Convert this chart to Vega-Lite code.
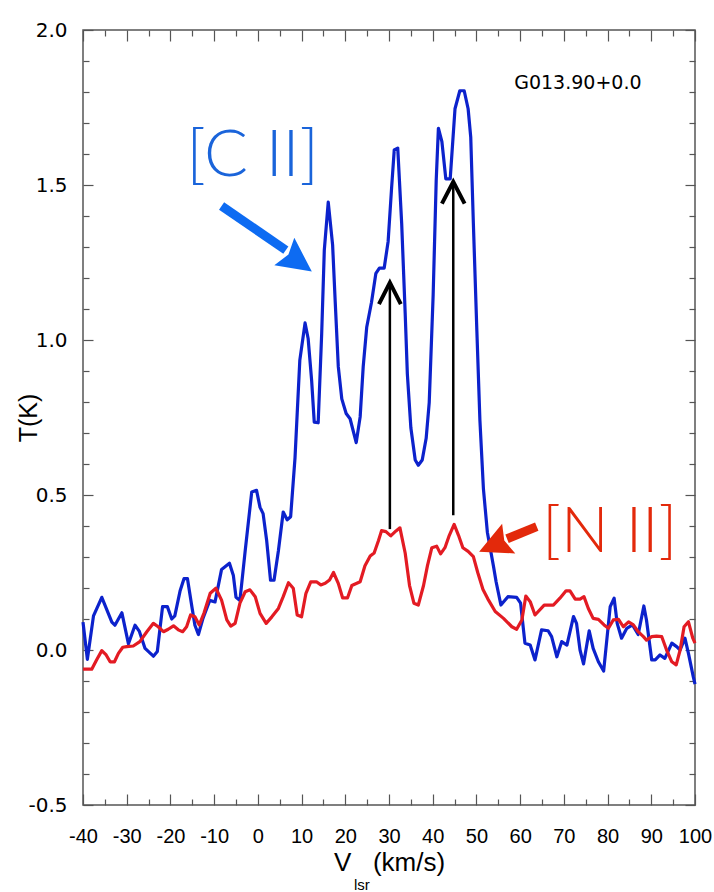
{
  "$schema": "https://vega.github.io/schema/vega-lite/v6.json",
  "width": 612,
  "height": 775,
  "autosize": {"type": "none"},
  "padding": {"left": 83, "top": 30, "right": 19, "bottom": 87},
  "background": "white",
  "config": {
    "view": {"stroke": "#555555", "strokeWidth": 1.5},
    "axis": {
      "grid": false,
      "domain": false,
      "tickColor": "#555555",
      "tickWidth": 1.2,
      "labelColor": "black",
      "titleColor": "black",
      "titleFontWeight": "normal",
      "labelOverlap": false,
      "labelFlush": false
    }
  },
  "resolve": {"axis": {"x": "independent", "y": "independent"}},
  "datasets": {
    "cii": [
      {"v": -40, "t": 0.09}, {"v": -39, "t": -0.03}, {"v": -37.6, "t": 0.11}, {"v": -35.7, "t": 0.17},
      {"v": -33.4, "t": 0.09}, {"v": -32.7, "t": 0.08}, {"v": -31.1, "t": 0.12}, {"v": -29.6, "t": 0.02},
      {"v": -28.1, "t": 0.08}, {"v": -27.1, "t": 0.06}, {"v": -25.8, "t": 0.005}, {"v": -23.9, "t": -0.02},
      {"v": -23.0, "t": -0.005}, {"v": -21.8, "t": 0.14}, {"v": -20.7, "t": 0.14}, {"v": -19.7, "t": 0.1},
      {"v": -19.0, "t": 0.11}, {"v": -17.8, "t": 0.19}, {"v": -16.9, "t": 0.23}, {"v": -16.1, "t": 0.23},
      {"v": -15.1, "t": 0.14}, {"v": -14.4, "t": 0.08}, {"v": -13.6, "t": 0.05}, {"v": -12.6, "t": 0.1},
      {"v": -11.0, "t": 0.16}, {"v": -9.8, "t": 0.155}, {"v": -8.3, "t": 0.26}, {"v": -6.5, "t": 0.28},
      {"v": -5.6, "t": 0.24}, {"v": -5.0, "t": 0.17}, {"v": -4.1, "t": 0.16}, {"v": -2.9, "t": 0.32},
      {"v": -1.4, "t": 0.51}, {"v": -0.3, "t": 0.515}, {"v": 0.5, "t": 0.46}, {"v": 1.2, "t": 0.44},
      {"v": 2.0, "t": 0.355}, {"v": 2.9, "t": 0.225}, {"v": 3.7, "t": 0.225}, {"v": 4.7, "t": 0.32},
      {"v": 5.8, "t": 0.445}, {"v": 6.7, "t": 0.42}, {"v": 7.5, "t": 0.43}, {"v": 8.5, "t": 0.62},
      {"v": 9.6, "t": 0.935}, {"v": 10.8, "t": 1.055}, {"v": 11.5, "t": 1.005}, {"v": 12.3, "t": 0.87},
      {"v": 12.9, "t": 0.735}, {"v": 13.8, "t": 0.733}, {"v": 14.6, "t": 1.02}, {"v": 15.2, "t": 1.29},
      {"v": 16.1, "t": 1.445}, {"v": 17.1, "t": 1.307}, {"v": 17.7, "t": 1.122}, {"v": 18.4, "t": 0.914},
      {"v": 19.2, "t": 0.81}, {"v": 20.2, "t": 0.763}, {"v": 21.1, "t": 0.746}, {"v": 22.5, "t": 0.669},
      {"v": 23.4, "t": 0.752}, {"v": 24.1, "t": 0.914}, {"v": 24.9, "t": 1.041}, {"v": 26.0, "t": 1.122},
      {"v": 27.0, "t": 1.215}, {"v": 27.8, "t": 1.232}, {"v": 28.9, "t": 1.232}, {"v": 29.8, "t": 1.318},
      {"v": 30.6, "t": 1.492}, {"v": 31.2, "t": 1.613}, {"v": 32.0, "t": 1.619}, {"v": 32.9, "t": 1.376},
      {"v": 33.7, "t": 1.087}, {"v": 34.2, "t": 0.89}, {"v": 35.0, "t": 0.717}, {"v": 36.0, "t": 0.613},
      {"v": 36.7, "t": 0.596}, {"v": 37.6, "t": 0.613}, {"v": 38.5, "t": 0.683}, {"v": 39.2, "t": 0.798},
      {"v": 40.1, "t": 1.145}, {"v": 40.8, "t": 1.515}, {"v": 41.3, "t": 1.683}, {"v": 42.1, "t": 1.64},
      {"v": 43.0, "t": 1.52}, {"v": 44.0, "t": 1.52}, {"v": 45.1, "t": 1.746}, {"v": 46.2, "t": 1.804},
      {"v": 47.2, "t": 1.804}, {"v": 48.1, "t": 1.746}, {"v": 48.7, "t": 1.654}, {"v": 49.3, "t": 1.376},
      {"v": 50.1, "t": 1.029}, {"v": 50.8, "t": 0.74}, {"v": 51.6, "t": 0.52}, {"v": 52.5, "t": 0.38},
      {"v": 53.9, "t": 0.27}, {"v": 54.5, "t": 0.22}, {"v": 55.6, "t": 0.145}, {"v": 57.2, "t": 0.172},
      {"v": 59.2, "t": 0.17}, {"v": 60.1, "t": 0.151}, {"v": 61.1, "t": 0.022}, {"v": 62.3, "t": 0.016},
      {"v": 63.4, "t": -0.032}, {"v": 64.9, "t": 0.065}, {"v": 66.4, "t": 0.062}, {"v": 67.2, "t": 0.043},
      {"v": 68.4, "t": -0.022}, {"v": 69.5, "t": 0.027}, {"v": 70.7, "t": 0.016}, {"v": 72.2, "t": 0.108},
      {"v": 72.9, "t": 0.086}, {"v": 73.7, "t": 0.0}, {"v": 74.5, "t": -0.045}, {"v": 75.8, "t": 0.062},
      {"v": 76.7, "t": 0.005}, {"v": 77.9, "t": -0.038}, {"v": 79.1, "t": -0.068}, {"v": 80.6, "t": 0.14},
      {"v": 81.5, "t": 0.167}, {"v": 82.2, "t": 0.086}, {"v": 83.2, "t": 0.038}, {"v": 84.4, "t": 0.07},
      {"v": 85.7, "t": 0.081}, {"v": 87.0, "t": 0.05}, {"v": 88.3, "t": 0.142}, {"v": 88.9, "t": 0.097},
      {"v": 90.1, "t": -0.032}, {"v": 90.9, "t": -0.032}, {"v": 92.0, "t": -0.016}, {"v": 93.1, "t": -0.027},
      {"v": 94.7, "t": 0.022}, {"v": 95.8, "t": 0.011}, {"v": 96.6, "t": 0.0}, {"v": 97.7, "t": 0.038},
      {"v": 98.5, "t": -0.011}, {"v": 99.6, "t": -0.086}, {"v": 100, "t": -0.11}
    ],
    "nii": [
      {"v": -40, "t": -0.062}, {"v": -38.0, "t": -0.062}, {"v": -36.9, "t": -0.032}, {"v": -35.7, "t": -0.002},
      {"v": -34.7, "t": -0.016}, {"v": -33.8, "t": -0.038}, {"v": -32.8, "t": -0.038}, {"v": -31.9, "t": -0.011},
      {"v": -30.9, "t": 0.009}, {"v": -30.0, "t": 0.011}, {"v": -28.5, "t": 0.013}, {"v": -27.0, "t": 0.027},
      {"v": -25.4, "t": 0.059}, {"v": -23.9, "t": 0.086}, {"v": -22.8, "t": 0.075}, {"v": -21.6, "t": 0.059},
      {"v": -20.5, "t": 0.067}, {"v": -19.3, "t": 0.078}, {"v": -18.2, "t": 0.065}, {"v": -17.2, "t": 0.059},
      {"v": -16.3, "t": 0.075}, {"v": -15.4, "t": 0.113}, {"v": -14.4, "t": 0.107}, {"v": -13.4, "t": 0.081},
      {"v": -12.3, "t": 0.12}, {"v": -10.9, "t": 0.183}, {"v": -9.6, "t": 0.199}, {"v": -8.3, "t": 0.161},
      {"v": -7.1, "t": 0.097}, {"v": -6.2, "t": 0.077}, {"v": -5.2, "t": 0.086}, {"v": -4.1, "t": 0.151},
      {"v": -2.9, "t": 0.188}, {"v": -1.8, "t": 0.194}, {"v": -0.6, "t": 0.172}, {"v": 0.5, "t": 0.118},
      {"v": 1.9, "t": 0.086}, {"v": 3.2, "t": 0.107}, {"v": 4.7, "t": 0.134}, {"v": 5.8, "t": 0.172},
      {"v": 7.0, "t": 0.217}, {"v": 8.1, "t": 0.199}, {"v": 9.0, "t": 0.113}, {"v": 10.0, "t": 0.107},
      {"v": 11.0, "t": 0.183}, {"v": 12.1, "t": 0.22}, {"v": 13.4, "t": 0.22}, {"v": 14.4, "t": 0.21},
      {"v": 15.4, "t": 0.215}, {"v": 16.4, "t": 0.226}, {"v": 17.3, "t": 0.25}, {"v": 18.4, "t": 0.215},
      {"v": 19.4, "t": 0.168}, {"v": 20.5, "t": 0.168}, {"v": 21.5, "t": 0.208}, {"v": 23.4, "t": 0.22},
      {"v": 24.5, "t": 0.272}, {"v": 25.7, "t": 0.303}, {"v": 26.6, "t": 0.313}, {"v": 27.6, "t": 0.353},
      {"v": 28.3, "t": 0.385}, {"v": 29.3, "t": 0.382}, {"v": 30.4, "t": 0.368}, {"v": 31.6, "t": 0.384},
      {"v": 32.5, "t": 0.394}, {"v": 33.7, "t": 0.313}, {"v": 34.7, "t": 0.208}, {"v": 35.7, "t": 0.151},
      {"v": 36.7, "t": 0.145}, {"v": 37.9, "t": 0.208}, {"v": 38.8, "t": 0.272}, {"v": 39.8, "t": 0.33},
      {"v": 40.9, "t": 0.335}, {"v": 41.8, "t": 0.31}, {"v": 42.8, "t": 0.33}, {"v": 43.8, "t": 0.37},
      {"v": 44.9, "t": 0.405}, {"v": 45.9, "t": 0.37}, {"v": 46.9, "t": 0.33}, {"v": 48.1, "t": 0.318},
      {"v": 49.3, "t": 0.301}, {"v": 50.3, "t": 0.25}, {"v": 51.5, "t": 0.195}, {"v": 52.6, "t": 0.165},
      {"v": 54.3, "t": 0.124}, {"v": 56.2, "t": 0.102}, {"v": 58.1, "t": 0.075}, {"v": 59.2, "t": 0.067},
      {"v": 60.4, "t": 0.097}, {"v": 61.3, "t": 0.174}, {"v": 62.3, "t": 0.156}, {"v": 63.4, "t": 0.113},
      {"v": 65.5, "t": 0.145}, {"v": 67.6, "t": 0.145}, {"v": 69.1, "t": 0.167}, {"v": 70.5, "t": 0.191},
      {"v": 71.4, "t": 0.191}, {"v": 72.6, "t": 0.164}, {"v": 73.7, "t": 0.164}, {"v": 74.6, "t": 0.172},
      {"v": 75.6, "t": 0.134}, {"v": 76.7, "t": 0.102}, {"v": 77.9, "t": 0.099}, {"v": 79.2, "t": 0.081},
      {"v": 80.2, "t": 0.07}, {"v": 81.3, "t": 0.097}, {"v": 82.5, "t": 0.099}, {"v": 83.6, "t": 0.075},
      {"v": 84.8, "t": 0.091}, {"v": 85.9, "t": 0.081}, {"v": 87.0, "t": 0.059}, {"v": 88.2, "t": 0.043},
      {"v": 88.9, "t": 0.032}, {"v": 90.1, "t": 0.043}, {"v": 91.2, "t": 0.045}, {"v": 92.4, "t": 0.043},
      {"v": 93.5, "t": 0.0}, {"v": 94.7, "t": -0.038}, {"v": 95.7, "t": -0.048}, {"v": 96.6, "t": 0.0},
      {"v": 97.5, "t": 0.075}, {"v": 98.5, "t": 0.091}, {"v": 99.5, "t": 0.038}, {"v": 100, "t": 0.022}
    ],
    "markers": [
      {"v": 30.2, "lo": 0.39, "hi": 1.185},
      {"v": 44.7, "lo": 0.435, "hi": 1.51}
    ],
    "chevrons": [
      {"arrow": "a", "k": 0, "v": 27.7, "t": 1.116},
      {"arrow": "a", "k": 1, "v": 30.2, "t": 1.185},
      {"arrow": "a", "k": 2, "v": 32.7, "t": 1.116},
      {"arrow": "b", "k": 0, "v": 42.1, "t": 1.44},
      {"arrow": "b", "k": 1, "v": 44.7, "t": 1.51},
      {"arrow": "b", "k": 2, "v": 47.3, "t": 1.44}
    ],
    "callouts": [
      {"line": "cii", "v": -8.3, "t": 1.432, "v2": 6.4, "t2": 1.29, "hv": 9.2, "ht": 1.253},
      {"line": "nii", "v": 63.8, "t": 0.398, "v2": 57.0, "t2": 0.359, "hv": 54.0, "ht": 0.338}
    ],
    "names": [
      {"line": "cii", "name": "[C II]", "v": -1.2, "t": 1.529},
      {"line": "nii", "name": "[N II]", "v": 80.5, "t": 0.316}
    ]
  },
  "layer": [
    {
      "mark": {"type": "rule", "color": "black", "strokeWidth": 3},
      "encoding": {
        "y": {"datum": 0, "type": "quantitative", "scale": {"domain": [-0.5, 2.0], "nice": false, "zero": false}, "axis": null}
      }
    },
    {
      "data": {"name": "cii"},
      "mark": {"type": "line", "color": "#0c22cc", "strokeWidth": 3.2, "strokeJoin": "round"},
      "encoding": {
        "x": {
          "field": "v", "type": "quantitative",
          "scale": {"domain": [-40, 100], "nice": false, "zero": false},
          "axis": {
            "orient": "bottom",
            "values": [-40, -30, -20, -10, 0, 10, 20, 30, 40, 50, 60, 70, 80, 90, 100],
            "format": "d",
            "labelExpr": "replace(datum.label, '\u2212', '-')",
            "tickSize": -11,
            "labelPadding": 32,
            "labelFont": "Liberation Sans",
            "labelFontSize": 20,
            "title": "V\u00a0\u00a0\u00a0(km/s)",
            "titleFont": "Liberation Sans",
            "titleFontSize": 26,
            "titlePadding": 3
          }
        },
        "y": {
          "field": "t", "type": "quantitative",
          "scale": {"domain": [-0.5, 2.0], "nice": false, "zero": false},
          "axis": {
            "orient": "left",
            "values": [-0.5, 0, 0.5, 1, 1.5, 2],
            "format": ".1f",
            "labelExpr": "replace(datum.label, '\u2212', '-')",
            "tickSize": -10,
            "labelPadding": 26,
            "labelFont": "DejaVu Sans",
            "labelFontSize": 20,
            "title": "T(K)",
            "titleFont": "Liberation Sans",
            "titleFontSize": 25,
            "titlePadding": -14
          }
        }
      }
    },
    {
      "data": {"name": "nii"},
      "mark": {"type": "line", "color": "#e31b23", "strokeWidth": 3.2, "strokeJoin": "round"},
      "encoding": {
        "x": {
          "field": "v", "type": "quantitative",
          "scale": {"domain": [-40, 100], "nice": false, "zero": false},
          "axis": {"orient": "bottom", "values": [-35, -25, -15, -5, 5, 15, 25, 35, 45, 55, 65, 75, 85, 95], "tickSize": -6, "labels": false, "title": null}
        },
        "y": {
          "field": "t", "type": "quantitative",
          "scale": {"domain": [-0.5, 2.0], "nice": false, "zero": false},
          "axis": {"orient": "left", "values": [-0.4, -0.3, -0.2, -0.1, 0.1, 0.2, 0.3, 0.4, 0.6, 0.7, 0.8, 0.9, 1.1, 1.2, 1.3, 1.4, 1.6, 1.7, 1.8, 1.9], "tickSize": -6, "labels": false, "title": null}
        }
      }
    },
    {
      "data": {"name": "markers"},
      "mark": {"type": "rule", "color": "black", "strokeWidth": 2.5},
      "encoding": {
        "x": {
          "field": "v", "type": "quantitative",
          "scale": {"domain": [-40, 100], "nice": false, "zero": false},
          "axis": {"orient": "top", "values": [-40, -30, -20, -10, 0, 10, 20, 30, 40, 50, 60, 70, 80, 90, 100], "tickSize": -11, "labels": false, "title": null}
        },
        "y": {
          "field": "lo", "type": "quantitative",
          "scale": {"domain": [-0.5, 2.0], "nice": false, "zero": false},
          "axis": {"orient": "right", "values": [-0.5, 0, 0.5, 1, 1.5, 2], "tickSize": -10, "labels": false, "title": null}
        },
        "y2": {"field": "hi"}
      }
    },
    {
      "data": {"name": "chevrons"},
      "mark": {"type": "line", "color": "black", "strokeWidth": 4, "strokeJoin": "miter", "strokeCap": "butt"},
      "encoding": {
        "x": {
          "field": "v", "type": "quantitative",
          "scale": {"domain": [-40, 100], "nice": false, "zero": false},
          "axis": {"orient": "top", "values": [-35, -25, -15, -5, 5, 15, 25, 35, 45, 55, 65, 75, 85, 95], "tickSize": -6, "labels": false, "title": null}
        },
        "y": {
          "field": "t", "type": "quantitative",
          "scale": {"domain": [-0.5, 2.0], "nice": false, "zero": false},
          "axis": {"orient": "right", "values": [-0.4, -0.3, -0.2, -0.1, 0.1, 0.2, 0.3, 0.4, 0.6, 0.7, 0.8, 0.9, 1.1, 1.2, 1.3, 1.4, 1.6, 1.7, 1.8, 1.9], "tickSize": -6, "labels": false, "title": null}
        },
        "detail": {"field": "arrow"},
        "order": {"field": "k"}
      }
    },
    {
      "data": {"name": "callouts"},
      "transform": [{"filter": "datum.line === 'cii'"}],
      "mark": {"type": "rule", "color": "#0d6bf2", "strokeWidth": 9},
      "encoding": {
        "x": {"field": "v", "type": "quantitative", "axis": null},
        "y": {"field": "t", "type": "quantitative", "axis": null},
        "x2": {"field": "v2"},
        "y2": {"field": "t2"}
      }
    },
    {
      "data": {"name": "callouts"},
      "transform": [{"filter": "datum.line === 'cii'"}],
      "mark": {"type": "point", "shape": "M1,0L-1,-1L-0.7,0L-1,1Z", "filled": true, "opacity": 1, "size": 1156, "angle": 36, "color": "#0d6bf2", "strokeWidth": 0},
      "encoding": {
        "x": {"field": "hv", "type": "quantitative", "axis": null},
        "y": {"field": "ht", "type": "quantitative", "axis": null}
      }
    },
    {
      "data": {"name": "callouts"},
      "transform": [{"filter": "datum.line === 'nii'"}],
      "mark": {"type": "rule", "color": "#e3290b", "strokeWidth": 9},
      "encoding": {
        "x": {"field": "v", "type": "quantitative", "axis": null},
        "y": {"field": "t", "type": "quantitative", "axis": null},
        "x2": {"field": "v2"},
        "y2": {"field": "t2"}
      }
    },
    {
      "data": {"name": "callouts"},
      "transform": [{"filter": "datum.line === 'nii'"}],
      "mark": {"type": "point", "shape": "M1,0L-1,-1L-0.7,0L-1,1Z", "filled": true, "opacity": 1, "size": 1050, "angle": 156, "color": "#e3290b", "strokeWidth": 0},
      "encoding": {
        "x": {"field": "hv", "type": "quantitative", "axis": null},
        "y": {"field": "ht", "type": "quantitative", "axis": null}
      }
    },
    {
      "data": {"name": "names"},
      "transform": [{"filter": "datum.line === 'cii'"}],
      "mark": {"type": "text", "font": "Lato", "fontWeight": 300, "fontSize": 65, "color": "#1a64da", "align": "center", "baseline": "alphabetic"},
      "encoding": {
        "x": {"field": "v", "type": "quantitative", "axis": null},
        "y": {"field": "t", "type": "quantitative", "axis": null},
        "text": {"field": "name"}
      }
    },
    {
      "data": {"name": "names"},
      "transform": [{"filter": "datum.line === 'nii'"}],
      "mark": {"type": "text", "font": "Lato", "fontWeight": 300, "fontSize": 63, "color": "#e3290b", "align": "center", "baseline": "alphabetic"},
      "encoding": {
        "x": {"field": "v", "type": "quantitative", "axis": null},
        "y": {"field": "t", "type": "quantitative", "axis": null},
        "text": {"field": "name"}
      }
    },
    {
      "data": {"values": [{}]},
      "mark": {"type": "text", "font": "DejaVu Sans", "fontSize": 19, "color": "black", "align": "center", "baseline": "alphabetic"},
      "encoding": {
        "x": {"datum": 73.2, "type": "quantitative", "axis": null},
        "y": {"datum": 1.81, "type": "quantitative", "axis": null},
        "text": {"value": "G013.90+0.0"}
      }
    },
    {
      "data": {"values": [{}]},
      "mark": {"type": "text", "font": "Liberation Sans", "fontSize": 15, "color": "black", "align": "center", "baseline": "middle", "dy": 80},
      "encoding": {
        "x": {"datum": 23.8, "type": "quantitative", "axis": null},
        "y": {"datum": -0.5, "type": "quantitative", "axis": null},
        "text": {"value": "lsr"}
      }
    }
  ]
}
